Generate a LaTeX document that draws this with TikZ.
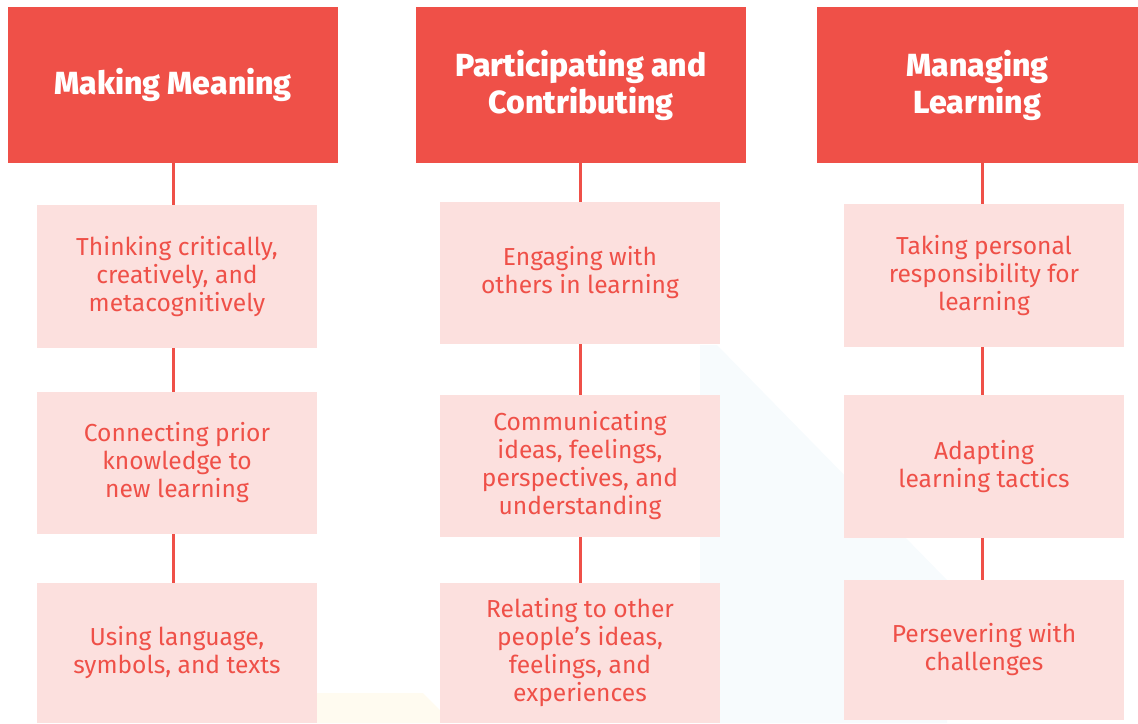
\documentclass[tikz,border=0pt]{standalone}
\usepackage{fontspec}
\setmainfont{Fira Sans}
\newfontfamily\hdrfont{Fira Sans}[UprightFont={* ExtraBold}]
\definecolor{hdred}{RGB}{239,80,72}
\definecolor{subpink}{RGB}{252,224,222}
\definecolor{faintblue}{RGB}{247,251,253}
\definecolor{faintyellow}{RGB}{255,251,240}
\tikzset{
  hdrbox/.style={rectangle, fill=hdred, draw=none, inner sep=0pt, text=white,
    font=\fontsize{32}{37}\hdrfont, align=center},
  subbox/.style={rectangle, fill=subpink, draw=none, inner sep=0pt, text=hdred,
    font=\fontsize{24.6}{28}\selectfont, align=center,
    minimum width=280pt},
  link/.style={draw=hdred, line width=3pt}
}
\begin{document}
\begin{tikzpicture}[x=1pt,y=-1pt]
\useasboundingbox (0,0) rectangle (1138,723);
% faint background shapes
\fill[faintblue] (700,345) -- (717,345) -- (947,580) -- (947,723) -- (700,723) -- cycle;
\fill[faintyellow] (317,693) -- (423,693) -- (440,710) -- (440,723) -- (317,723) -- cycle;
% headers
\node[hdrbox, minimum width=330pt, minimum height=156pt] (h1) at (173,85) {Making Meaning};
\node[hdrbox, minimum width=330pt, minimum height=156pt] (h2) at (581,85) {Participating and\\Contributing};
\node[hdrbox, minimum width=321pt, minimum height=156pt] (h3) at (977.5,85) {Managing\\Learning};
% column 1
\node[subbox, minimum height=143pt] (s11) at (177,276.5) {Thinking critically,\\creatively, and\\metacognitively};
\node[subbox, minimum height=142pt] (s12) at (177,463) {Connecting prior\\knowledge to\\new learning};
\node[subbox, minimum height=140pt] (s13) at (177,653) {Using language,\\symbols, and texts};
% column 2
\node[subbox, minimum height=142pt] (s21) at (580,273) {Engaging with\\others in learning};
\node[subbox, minimum height=142pt] (s22) at (580,466) {Communicating\\ideas, feelings,\\perspectives, and\\understanding};
\node[subbox, minimum height=140pt] (s23) at (580,653) {Relating to other\\people’s ideas,\\feelings, and\\experiences};
% column 3
\node[subbox, minimum height=143pt] (s31) at (984,275.5) {Taking personal\\responsibility for\\learning};
\node[subbox, minimum height=143pt] (s32) at (984,466.5) {Adapting\\learning tactics};
\node[subbox, minimum height=140pt] (s33) at (984,650) {Persevering with\\challenges};
% column line positions
\coordinate (c1) at (173,0);
\coordinate (c2) at (580,0);
\coordinate (c3) at (982,0);
% connectors
\draw[link] (c1 |- h1.south) -- (c1 |- s11.north);
\draw[link] (c1 |- s11.south) -- (c1 |- s12.north);
\draw[link] (c1 |- s12.south) -- (c1 |- s13.north);
\draw[link] (c2 |- h2.south) -- (c2 |- s21.north);
\draw[link] (c2 |- s21.south) -- (c2 |- s22.north);
\draw[link] (c2 |- s22.south) -- (c2 |- s23.north);
\draw[link] (c3 |- h3.south) -- (c3 |- s31.north);
\draw[link] (c3 |- s31.south) -- (c3 |- s32.north);
\draw[link] (c3 |- s32.south) -- (c3 |- s33.north);
\end{tikzpicture}
\end{document}
